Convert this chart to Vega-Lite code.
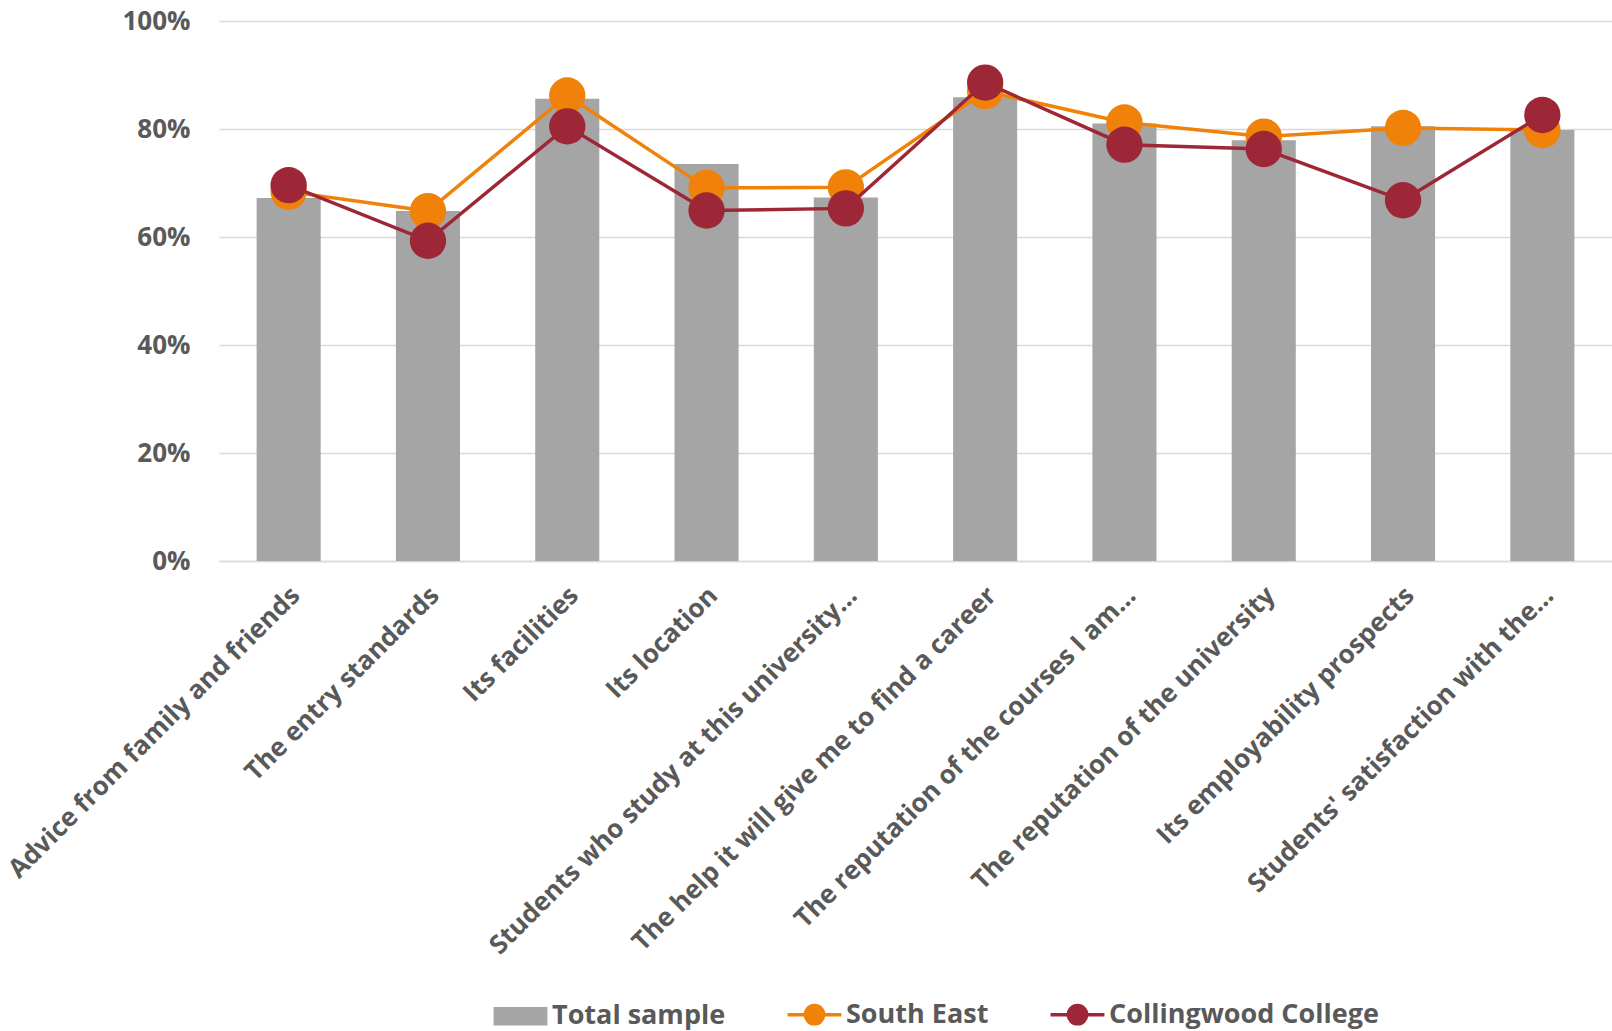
{
  "$schema": "https://vega.github.io/schema/vega-lite/v6.json",
  "width": 1393,
  "height": 540,
  "autosize": {"type": "none"},
  "padding": {"left": 219, "top": 21, "right": 0, "bottom": 470},
  "background": "white",
  "config": {
    "font": "Open Sans",
    "view": {"stroke": null},
    "axis": {
      "labelFont": "Open Sans",
      "labelFontWeight": "bold",
      "labelColor": "#595959",
      "ticks": false,
      "title": null
    },
    "legend": {
      "labelFont": "Open Sans",
      "labelFontWeight": "bold",
      "labelColor": "#595959"
    }
  },
  "data": {
    "values": [
      {"item": "Advice from family and friends", "series": "Total sample", "value": 0.672},
      {"item": "The entry standards", "series": "Total sample", "value": 0.648},
      {"item": "Its facilities", "series": "Total sample", "value": 0.856},
      {"item": "Its location", "series": "Total sample", "value": 0.735},
      {"item": "Students who study at this university…", "series": "Total sample", "value": 0.673},
      {"item": "The help it will give me to find a career", "series": "Total sample", "value": 0.859},
      {"item": "The reputation of the courses I am…", "series": "Total sample", "value": 0.810},
      {"item": "The reputation of the university", "series": "Total sample", "value": 0.779},
      {"item": "Its employability prospects", "series": "Total sample", "value": 0.805},
      {"item": "Students' satisfaction with the…", "series": "Total sample", "value": 0.798},

      {"item": "Advice from family and friends", "series": "South East", "value": 0.684},
      {"item": "The entry standards", "series": "South East", "value": 0.648},
      {"item": "Its facilities", "series": "South East", "value": 0.862},
      {"item": "Its location", "series": "South East", "value": 0.691},
      {"item": "Students who study at this university…", "series": "South East", "value": 0.692},
      {"item": "The help it will give me to find a career", "series": "South East", "value": 0.870},
      {"item": "The reputation of the courses I am…", "series": "South East", "value": 0.812},
      {"item": "The reputation of the university", "series": "South East", "value": 0.786},
      {"item": "Its employability prospects", "series": "South East", "value": 0.802},
      {"item": "Students' satisfaction with the…", "series": "South East", "value": 0.798},

      {"item": "Advice from family and friends", "series": "Collingwood College", "value": 0.696},
      {"item": "The entry standards", "series": "Collingwood College", "value": 0.593},
      {"item": "Its facilities", "series": "Collingwood College", "value": 0.805},
      {"item": "Its location", "series": "Collingwood College", "value": 0.649},
      {"item": "Students who study at this university…", "series": "Collingwood College", "value": 0.653},
      {"item": "The help it will give me to find a career", "series": "Collingwood College", "value": 0.886},
      {"item": "The reputation of the courses I am…", "series": "Collingwood College", "value": 0.771},
      {"item": "The reputation of the university", "series": "Collingwood College", "value": 0.763},
      {"item": "Its employability prospects", "series": "Collingwood College", "value": 0.668},
      {"item": "Students' satisfaction with the…", "series": "Collingwood College", "value": 0.826}
    ]
  },
  "encoding": {
    "x": {
      "field": "item",
      "type": "nominal",
      "sort": null,
      "scale": {"paddingInner": 0.54, "paddingOuter": 0.27},
      "axis": {
        "labelAngle": -45,
        "labelAlign": "right",
        "labelBaseline": "middle",
        "labelFontSize": 26,
        "labelPadding": 30,
        "labelOffset": 7,
        "labelLimit": 700,
        "domain": true,
        "domainColor": "#D9D9D9",
        "domainWidth": 1.5,
        "grid": false
      }
    },
    "y": {
      "field": "value",
      "type": "quantitative",
      "scale": {"domain": [0, 1], "nice": false},
      "axis": {
        "values": [0, 0.2, 0.4, 0.6, 0.8, 1],
        "format": ".0%",
        "labelFontSize": 26,
        "labelPadding": 29,
        "domain": false,
        "grid": true,
        "gridColor": "#D9D9D9",
        "gridWidth": 1.5
      }
    },
    "color": {
      "field": "series",
      "type": "nominal",
      "scale": {
        "domain": ["Total sample", "South East", "Collingwood College"],
        "range": ["#A5A5A5", "#F0820A", "#9E2737"]
      },
      "legend": {
        "title": null,
        "orient": "none",
        "direction": "horizontal",
        "legendX": 288,
        "legendY": 980,
        "labelFontSize": 27,
        "labelOffset": 18,
        "columnPadding": 54,
        "symbolSize": 2900,
        "symbolOpacity": 1,
        "labelLimit": 400,
        "encode": {
          "symbols": {
            "update": {
              "shape": {"signal": "datum.value === 'Total sample' ? 'M-1,-0.34H1V0.34H-1Z' : 'M-1,0H1M-0.34,0A0.34,0.34 0 1,0 0.34,0A0.34,0.34 0 1,0 -0.34,0Z'"},
              "fill": {"signal": "scale('color', datum.value)"},
              "stroke": {"signal": "scale('color', datum.value)"},
              "strokeWidth": {"signal": "datum.value === 'Total sample' ? 0 : 3.5"},
              "opacity": {"value": 1}
            }
          }
        }
      }
    }
  },
  "layer": [
    {
      "transform": [{"filter": "datum.series === 'Total sample'"}],
      "mark": {"type": "bar"}
    },
    {
      "transform": [{"filter": "datum.series === 'South East'"}],
      "mark": {"type": "line", "strokeWidth": 3.5, "point": {"filled": true, "size": 1320, "opacity": 1}}
    },
    {
      "transform": [{"filter": "datum.series === 'Collingwood College'"}],
      "mark": {"type": "line", "strokeWidth": 3.5, "point": {"filled": true, "size": 1320, "opacity": 1}}
    }
  ]
}
